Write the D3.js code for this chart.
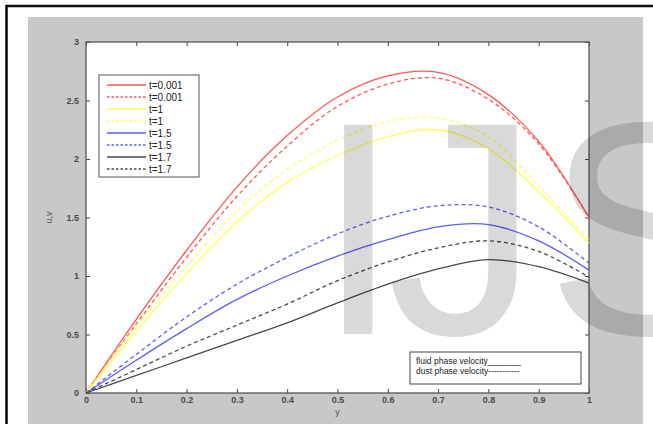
<!DOCTYPE html>
<html>
<head>
<meta charset="utf-8">
<title>velocity profiles</title>
<script src="https://d3js.org/d3.v7.min.js"></script>
<style>
body { margin:0; background:#fff; }
svg text { font-family: Arial, "Liberation Sans", Helvetica, sans-serif; }
</style>
</head>
<body>
<svg id="fig" width="653" height="424"></svg>
<script>
// x positions (y in the paper) and the curves
var ys = [0, 0.1, 0.2, 0.3, 0.4, 0.5, 0.6, 0.7, 0.8, 0.9, 1];
var fluid_t0001 = [0, 0.63, 1.22, 1.76, 2.20, 2.53, 2.71, 2.74, 2.55, 2.15, 1.50];
var dust_t0001  = [0, 0.59, 1.16, 1.68, 2.11, 2.45, 2.64, 2.69, 2.51, 2.13, 1.50];
var fluid_t1    = [0, 0.53, 1.02, 1.46, 1.80, 2.03, 2.19, 2.25, 2.09, 1.72, 1.28];
var dust_t1     = [0, 0.57, 1.08, 1.55, 1.91, 2.16, 2.32, 2.35, 2.19, 1.77, 1.31];
var fluid_t15   = [0, 0.28, 0.55, 0.80, 1.00, 1.17, 1.31, 1.42, 1.44, 1.30, 1.05];
var dust_t15    = [0, 0.33, 0.65, 0.93, 1.16, 1.36, 1.51, 1.60, 1.59, 1.42, 1.11];
var fluid_t17   = [0, 0.15, 0.30, 0.45, 0.60, 0.77, 0.93, 1.06, 1.14, 1.08, 0.94];
var dust_t17    = [0, 0.20, 0.40, 0.58, 0.76, 0.96, 1.12, 1.24, 1.30, 1.21, 0.99];

var labels = ["t=0.001", "t=0.001", "t=1", "t=1", "t=1.5", "t=1.5", "t=1.7", "t=1.7"];
var colors = ["#ff5555", "#ff5555", "#ffff55", "#ffff55", "#5c5cff", "#5c5cff", "#4a4a4a", "#4a4a4a"];
var dashed = [false, true, false, true, false, true, false, true];
var series = [fluid_t0001, dust_t0001, fluid_t1, dust_t1, fluid_t15, dust_t15, fluid_t17, dust_t17];
var xticks = d3.range(0, 1.01, 0.1);
var yticks = [0, 0.5, 1, 1.5, 2, 2.5, 3];

var svg = d3.select("#fig");
var L = 86, R = 589, T = 42, B = 393;
var x = d3.scaleLinear().domain([0, 1]).range([L, R]);
var y = d3.scaleLinear().domain([0, 3]).range([B, T]);

// page frame + grey figure background
svg.append("rect").attr("x", 28).attr("y", 17).attr("width", 615).attr("height", 407).attr("fill", "#c8c8c8");
svg.append("line").attr("x1", 6).attr("x2", 653).attr("y1", 6).attr("y2", 6).attr("stroke", "#111").attr("stroke-width", 2.5);
svg.append("line").attr("x1", 6.5).attr("x2", 6.5).attr("y1", 5).attr("y2", 424).attr("stroke", "#000").attr("stroke-width", 2.5);

// axes area
svg.append("rect").attr("x", L).attr("y", T).attr("width", R - L).attr("height", B - T).attr("fill", "#fff");

var fmt = function(d) { return d3.format("~g")(+d.toFixed(2)); };
var ax = svg.append("g").attr("transform", "translate(0," + B + ")")
  .call(d3.axisBottom(x).tickValues(xticks).tickSizeInner(-4).tickSizeOuter(0).tickPadding(4).tickFormat(fmt));
var axT = svg.append("g").attr("transform", "translate(0," + T + ")")
  .call(d3.axisTop(x).tickValues(xticks).tickSizeInner(-4).tickSizeOuter(0).tickFormat(""));
var ay = svg.append("g").attr("transform", "translate(" + L + ",0)")
  .call(d3.axisLeft(y).tickValues(yticks).tickSizeInner(-4).tickSizeOuter(0).tickPadding(7).tickFormat(fmt));
var ayR = svg.append("g").attr("transform", "translate(" + R + ",0)")
  .call(d3.axisRight(y).tickValues(yticks).tickSizeInner(-4).tickSizeOuter(0).tickFormat(""));
[ax, axT, ay, ayR].forEach(function(g) {
  g.select(".domain").remove();
  g.selectAll("line").attr("stroke", "#444");
  g.selectAll("text").attr("font-size", 9).attr("font-weight", "bold").attr("fill", "#4a4a4a");
});
svg.append("rect").attr("x", L).attr("y", T).attr("width", R - L).attr("height", B - T)
  .attr("fill", "none").attr("stroke", "#555").attr("stroke-width", 1.3);

svg.append("text").attr("x", x(0.5)).attr("y", 415).attr("text-anchor", "middle")
  .attr("font-size", 9).attr("fill", "#555").text("y");
svg.append("text").attr("transform", "translate(52," + y(1.5) + ") rotate(-90)").attr("text-anchor", "middle")
  .attr("font-size", 9).attr("fill", "#555").text("u,v");

// curves
var line = d3.line().x(function(d, i) { return x(ys[i]); }).y(function(d) { return y(d); })
  .curve(d3.curveCatmullRom.alpha(0.5));
svg.append("g").selectAll("path").data(series).enter().append("path")
  .attr("d", line).attr("fill", "none")
  .attr("stroke", function(d, i) { return colors[i]; })
  .attr("stroke-width", 1.3)
  .attr("stroke-dasharray", function(d, i) { return dashed[i] ? "4,3" : null; });

// legend
var lg = svg.append("g");
lg.append("rect").attr("x", 99).attr("y", 75).attr("width", 100).attr("height", 102)
  .attr("fill", "#fff").attr("stroke", "#555");
var it = lg.selectAll("g").data(labels).enter().append("g")
  .attr("transform", function(d, i) { return "translate(0," + (85 + i * 12) + ")"; });
it.append("line").attr("x1", 107).attr("x2", 146)
  .attr("stroke", function(d, i) { return colors[i]; }).attr("stroke-width", 1.3)
  .attr("stroke-dasharray", function(d, i) { return dashed[i] ? "2.5,2" : null; });
it.append("text").attr("x", 149).attr("y", 3.5).attr("font-size", 10).attr("fill", "#222").text(function(d) { return d; });

// note box
var nb = svg.append("g");
nb.append("rect").attr("x", 410).attr("y", 352).attr("width", 171).attr("height", 32)
  .attr("fill", "#fff").attr("stroke", "#444");
nb.append("text").attr("x", 416).attr("y", 364).attr("font-size", 8.5).attr("fill", "#222").text("fluid phase velocity_______");
nb.append("text").attr("x", 416).attr("y", 374).attr("font-size", 8.5).attr("fill", "#222").text("dust phase velocity-----------");

// watermark
var wm = svg.append("g").attr("fill", "#000").attr("fill-opacity", 0.15)
  .attr("font-size", 304).attr("font-family", "Arial, 'Liberation Sans', sans-serif");
wm.append("text").attr("x", 316).attr("y", 334).text("I");
wm.append("text").attr("x", 387).attr("y", 334).text("J");
wm.append("text").attr("x", 546).attr("y", 334).text("S");
</script>
</body>
</html>
